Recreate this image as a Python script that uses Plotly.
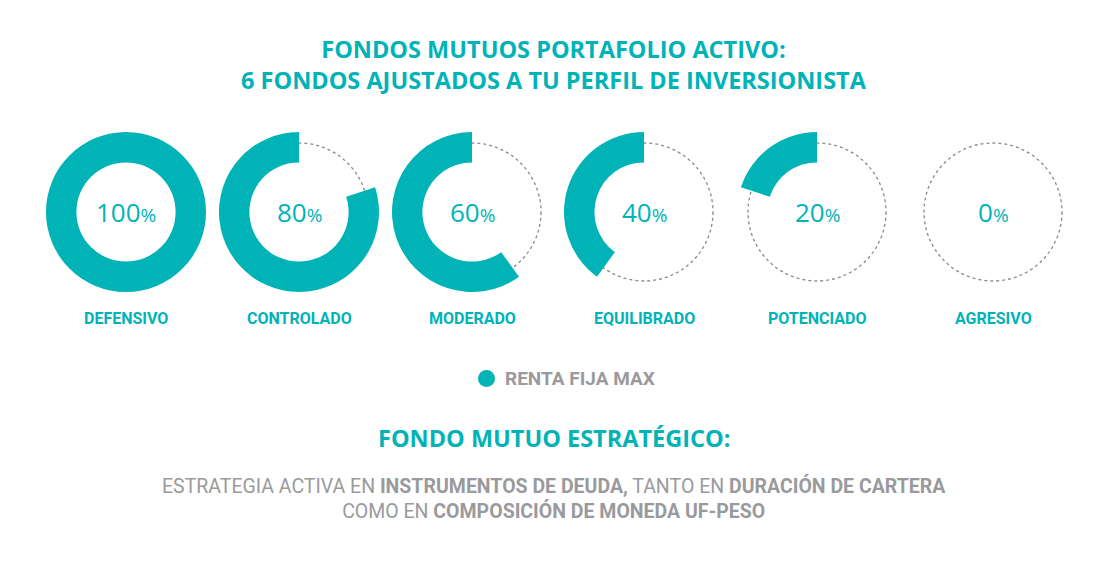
import plotly.graph_objects as go

W, H = 1109, 561
OFF = 8  # page body margin
TEAL = "#00B3B7"
GREY = "#9A9A9C"

fondos = ["DEFENSIVO", "CONTROLADO", "MODERADO", "EQUILIBRADO", "POTENCIADO", "AGRESIVO"]
renta_fija = [100, 80, 60, 40, 20, 0]
centros_x = [126, 299, 472, 644, 817, 993]
cy = 212
r_out, r_dot = 80, 69

fig = go.Figure()
shapes = []
annotations = []


def px(x):
    return (x - OFF) / W


def py(y):
    return 1 - (y - OFF) / H


def ann(x, y, text, size, color, family, **kw):
    return dict(x=px(x), y=py(y), xref="paper", yref="paper", text=text,
                showarrow=False, xanchor=kw.pop("xanchor", "center"), yanchor="middle",
                font=dict(size=size, color=color, family=family), **kw)


for nombre, val, cx in zip(fondos, renta_fija, centros_x):
    # dotted circle for remainder
    shapes.append(dict(type="circle", xref="paper", yref="paper",
                       x0=px(cx - r_dot), x1=px(cx + r_dot),
                       y0=py(cy + r_dot), y1=py(cy - r_dot),
                       line=dict(color="#8a8a8a", width=1.3, dash="dot"), layer="below"))
    # remainder first so the teal arc runs counterclockwise from 12 o'clock
    fig.add_trace(go.Pie(
        values=[100 - val, val], hole=0.62, sort=False, direction="clockwise",
        rotation=0, marker=dict(colors=["rgba(0,0,0,0)", TEAL], line=dict(width=0)),
        textinfo="none", hoverinfo="skip", showlegend=False,
        domain=dict(x=[px(cx - r_out), px(cx + r_out)],
                    y=[py(cy + r_out), py(cy - r_out)]),
    ))
    annotations.append(ann(cx, cy, f"{val}<span style='font-size:19px'>%</span>",
                           26, TEAL, "Open Sans"))
    annotations.append(ann(cx, 318, f"<b>{nombre}</b>", 16, TEAL, "Roboto"))

annotations += [
    ann(554, 64, "<b>FONDOS MUTUOS PORTAFOLIO ACTIVO:<br>6 FONDOS AJUSTADOS A TU PERFIL DE INVERSIONISTA</b>",
        23.5, TEAL, "Open Sans"),
    ann(503, 378, "<b>RENTA FIJA MAX</b>", 19, GREY, "Roboto", xanchor="left"),
    ann(554, 438, "<b>FONDO MUTUO ESTRATÉGICO:</b>", 23.5, TEAL, "Open Sans"),
    ann(554, 498, "ESTRATEGIA ACTIVA EN <b>INSTRUMENTOS DE DEUDA,</b> TANTO EN <b>DURACIÓN DE CARTERA</b>"
        "<br>COMO EN <b>COMPOSICIÓN DE MONEDA UF-PESO</b>", 19.5, GREY, "Roboto", align="center"),
]
shapes.append(dict(type="circle", xref="paper", yref="paper",
                   x0=px(478), x1=px(495), y0=py(387), y1=py(370),
                   fillcolor=TEAL, line=dict(width=0)))

fig.update_layout(width=W, height=H, margin=dict(l=0, r=0, t=0, b=0),
                  paper_bgcolor="white", plot_bgcolor="white",
                  shapes=shapes, annotations=annotations)
fig.write_html("out.html")
